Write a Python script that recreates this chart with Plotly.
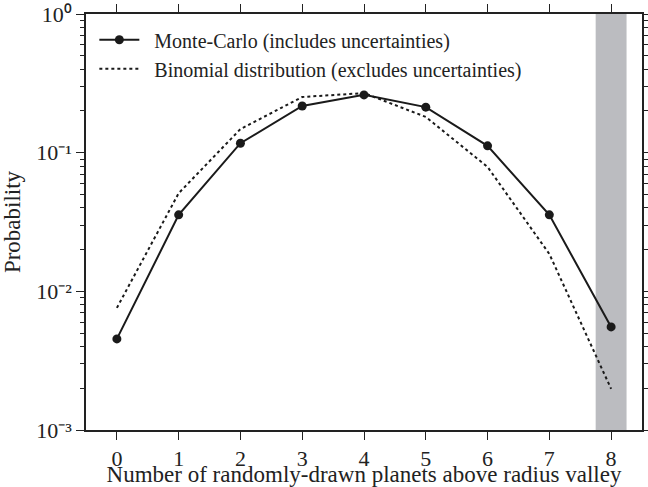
import plotly.graph_objects as go

n_planets = [0, 1, 2, 3, 4, 5, 6, 7, 8]
mc_prob = [0.00454, 0.0356, 0.117, 0.217, 0.261, 0.213, 0.112, 0.0356, 0.00554]
mc_err = [0.0003, 0.001, 0.002, 0.003, 0.003, 0.003, 0.002, 0.001, 0.0003]
binom_prob = [0.0076, 0.051, 0.148, 0.252, 0.269, 0.181, 0.0789, 0.0186, 0.00198]
band = [7.75, 8.25]
ytick_vals = [1e-3, 1e-2, 1e-1, 1e0]
ytick_text = ["10\u207b\u00b3", "10\u207b\u00b2", "10\u207b\u00b9", "10\u2070"]
yminor_vals = [m * d for d in [1e-3, 1e-2, 1e-1] for m in range(2, 10)]

FONT = "Liberation Serif"
INK = "#222"

fig = go.Figure()
fig.add_vrect(x0=band[0], x1=band[1], fillcolor="#bbbcc0", opacity=1, line_width=0, layer="below")

fig.add_trace(go.Scatter(
    x=n_planets, y=mc_prob, mode="lines+markers",
    name="\u00a0\u00a0Monte-Carlo (includes uncertainties)",
    line=dict(color="#1a1a1a", width=2),
    marker=dict(color="#1a1a1a", size=9),
    error_y=dict(type="data", array=mc_err, color="#1a1a1a", thickness=1.5, width=0),
))
fig.add_trace(go.Scatter(
    x=n_planets, y=binom_prob, mode="lines",
    name="\u00a0\u00a0Binomial distribution (excludes uncertainties)",
    line=dict(color="#1a1a1a", width=2, dash="dot"),
))

axis_common = dict(
    showline=True, linecolor=INK, linewidth=1.5, mirror="allticks",
    ticks="outside", ticklen=8, tickwidth=1.2, tickcolor=INK,
    showgrid=False, zeroline=False, automargin=False,
    ticklabeloverflow="allow",
    tickfont=dict(family=FONT, size=22, color=INK),
)

fig.update_xaxes(
    range=[-0.5, 8.5], tickvals=n_planets,
    title=dict(text="Number of randomly-drawn planets above radius valley",
               font=dict(family=FONT, size=23, color=INK)),
    **axis_common,
)
fig.update_yaxes(
    type="log", range=[-3, 0], tickvals=ytick_vals, ticktext=ytick_text,
    minor=dict(tickmode="array", tickvals=yminor_vals, ticks="outside", ticklen=4,
               tickwidth=1, tickcolor=INK, showgrid=False),
    title=dict(text="Probability", font=dict(family=FONT, size=23, color=INK)),
    **axis_common,
)

fig.update_layout(
    width=648, height=487,
    margin=dict(l=86, r=6, t=14, b=57),
    plot_bgcolor="white", paper_bgcolor="white",
    font=dict(family=FONT, color=INK),
    showlegend=True,
    legend=dict(x=0.015, y=0.985, xanchor="left", yanchor="top",
                bgcolor="rgba(0,0,0,0)", font=dict(family=FONT, size=20, color=INK),
                itemwidth=40, tracegroupgap=4),
)

fig.write_html("out.html", config={"displayModeBar": False},
               post_script="document.body.style.margin='0';")
